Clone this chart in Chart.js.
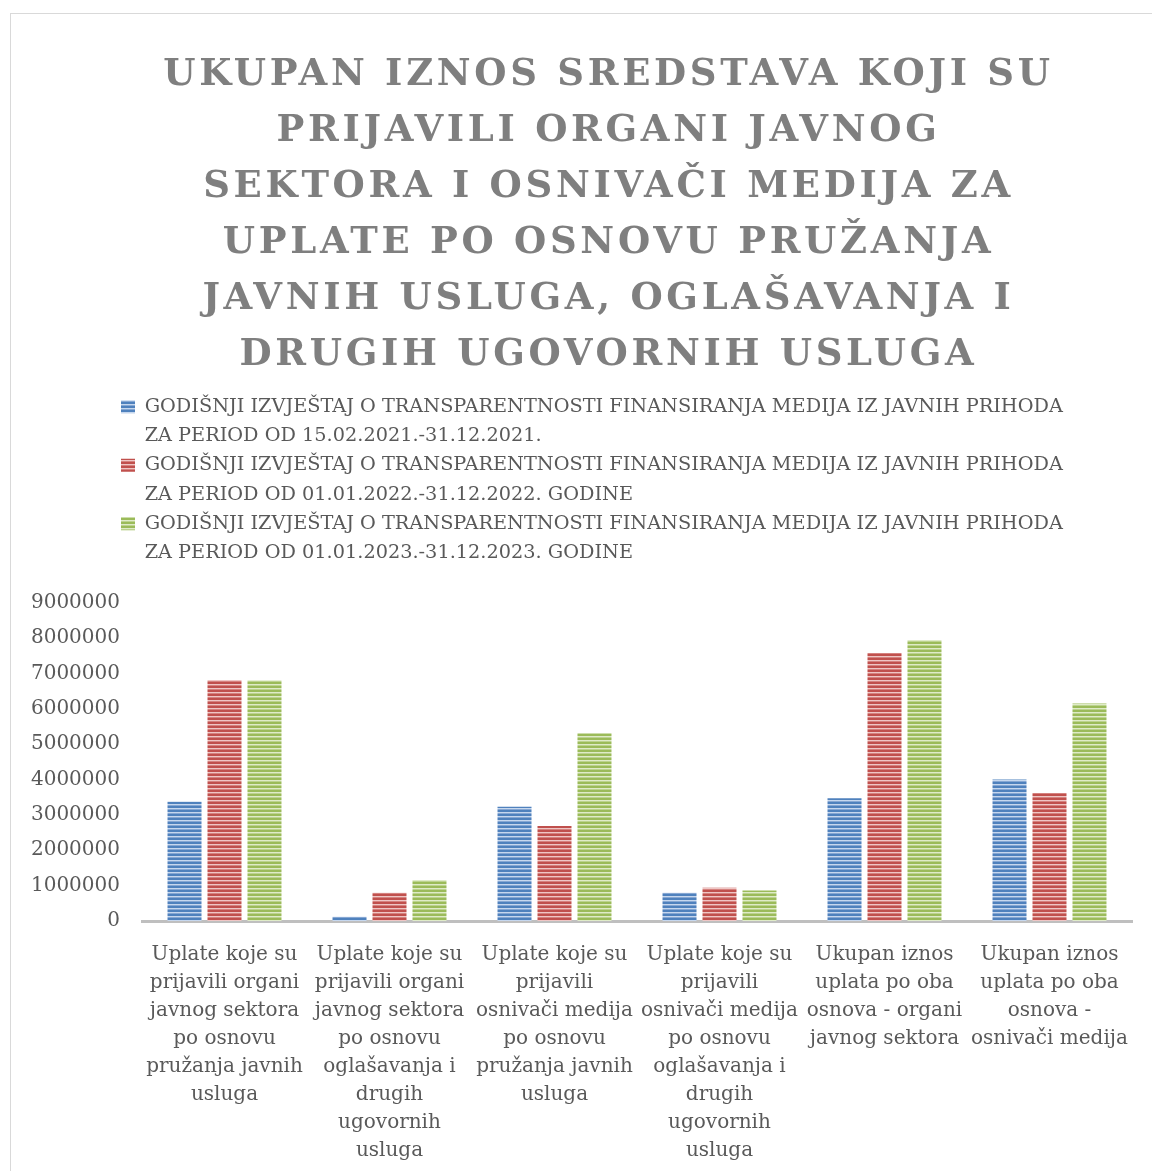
<!DOCTYPE html>
<html>
<head>
<meta charset="utf-8">
<script src="https://cdn.jsdelivr.net/npm/chart.js@4.4.1/dist/chart.umd.min.js"></script>
<style>
  html, body { margin: 0; padding: 0; background: #fff; overflow: hidden; }
  #frame { position: absolute; left: 10px; top: 13px; width: 1200px; height: 1200px; border: 1px solid #d9d9d9; }
  canvas { display: block; }
</style>
</head>
<body>
<div id="frame"><canvas id="chart" width="1141" height="1179"></canvas></div>
<script>
const titleLines = [
  "UKUPAN IZNOS SREDSTAVA KOJI SU",
  "PRIJAVILI ORGANI JAVNOG",
  "SEKTORA I OSNIVAČI MEDIJA ZA",
  "UPLATE PO OSNOVU PRUŽANJA",
  "JAVNIH USLUGA, OGLAŠAVANJA I",
  "DRUGIH UGOVORNIH USLUGA",
];

const categories = [
  ["Uplate koje su", "prijavili organi", "javnog sektora", "po osnovu", "pružanja javnih", "usluga"],
  ["Uplate koje su", "prijavili organi", "javnog sektora", "po osnovu", "oglašavanja i", "drugih", "ugovornih", "usluga"],
  ["Uplate koje su", "prijavili", "osnivači medija", "po osnovu", "pružanja javnih", "usluga"],
  ["Uplate koje su", "prijavili", "osnivači medija", "po osnovu", "oglašavanja i", "drugih", "ugovornih", "usluga"],
  ["Ukupan iznos", "uplata po oba", "osnova - organi", "javnog sektora"],
  ["Ukupan iznos", "uplata po oba", "osnova -", "osnivači medija"],
];

const seriesNames = [
  ["GODIŠNJI IZVJEŠTAJ O TRANSPARENTNOSTI FINANSIRANJA MEDIJA IZ JAVNIH PRIHODA", "ZA PERIOD OD 15.02.2021.-31.12.2021."],
  ["GODIŠNJI IZVJEŠTAJ O TRANSPARENTNOSTI FINANSIRANJA MEDIJA IZ JAVNIH PRIHODA", "ZA PERIOD OD 01.01.2022.-31.12.2022. GODINE"],
  ["GODIŠNJI IZVJEŠTAJ O TRANSPARENTNOSTI FINANSIRANJA MEDIJA IZ JAVNIH PRIHODA", "ZA PERIOD OD 01.01.2023.-31.12.2023. GODINE"],
];

const values2021 = [3370000, 120000, 3230000, 800000, 3470000, 4000000];
const values2022 = [6820000, 800000, 2690000, 940000, 7580000, 3620000];
const values2023 = [6810000, 1160000, 5310000, 860000, 7950000, 6150000];

const yMin = 0;
const yMax = 9000000;
const yStep = 1000000;

const textColor = "#595959";
const serif = "'DejaVu Serif', serif";

// horizontal stripes like the office "narrow horizontal" fill
function stripes(base, light, mid) {
  const c = document.createElement("canvas");
  c.width = 4;
  c.height = 4;
  const g = c.getContext("2d");
  const rows = [base, base, light, mid];
  rows.forEach((col, i) => {
    g.fillStyle = col;
    g.fillRect(0, i, 4, 1);
  });
  return g.createPattern(c, "repeat");
}

const fills = [
  stripes("#4f81bd", "#c6d7ee", "#86a7d3"),
  stripes("#c0504d", "#efc6c5", "#d5827f"),
  stripes("#9bbb59", "#dfebc8", "#bcd38f"),
];

// legend spacing, title letter spacing and horizontal offsets
const layoutTweaks = {
  id: "layoutTweaks",
  afterInit(chart) {
    const legend = chart.legend;
    const fit = legend.fit;
    legend.fit = function () {
      fit.call(this);
      this.height += 30;
    };
    const title = chart.titleBlock;
    const draw = title.draw;
    title.draw = function (area) {
      const ctx = this.ctx;
      ctx.save();
      ctx.letterSpacing = "3.7px";
      draw.call(this, area);
      ctx.restore();
    };
  },
  afterLayout(chart) {
    chart.legend.left = 100;
    chart.titleBlock.left += 27;
    chart.titleBlock.right += 27;
  },
};

const data = {
  labels: categories,
  datasets: [values2021, values2022, values2023].map((vals, i) => ({
    label: seriesNames[i].join(" "),
    data: vals,
    backgroundColor: fills[i],
    borderWidth: 0,
    categoryPercentage: 0.727,
    barPercentage: 0.85,
  })),
};

const config = {
  type: "bar",
  data: data,
  plugins: [layoutTweaks],
  options: {
    responsive: false,
    animation: false,
    layout: {
      padding: { left: 20, right: 20, top: 0, bottom: 8 },
    },
    plugins: {
      title: {
        display: true,
        text: titleLines,
        color: "#7f7f7f",
        font: { family: serif, size: 37, weight: "bold", lineHeight: 56 / 37 },
        padding: { top: 33, bottom: 4 },
      },
      legend: {
        display: true,
        position: "top",
        align: "start",
        labels: {
          color: textColor,
          font: { family: serif, size: 19.3 },
          boxWidth: 14,
          boxHeight: 13,
          padding: 10,
          generateLabels(chart) {
            const items = [];
            seriesNames.forEach((lines, i) => {
              lines.forEach((line, j) => {
                items.push({
                  text: line,
                  fillStyle: j === 0 ? fills[i] : "rgba(0,0,0,0)",
                  strokeStyle: "rgba(0,0,0,0)",
                  lineWidth: 0,
                  fontColor: textColor,
                  hidden: !chart.isDatasetVisible(i),
                  datasetIndex: i,
                });
              });
            });
            return items;
          },
        },
      },
      tooltip: { enabled: false },
    },

    scales: {
      x: {
        grid: { display: false, drawTicks: false },
        border: { display: true, color: "#bfbfbf", width: 3 },
        ticks: {
          color: textColor,
          font: { family: serif, size: 20, lineHeight: 1.4 },
          padding: 20,
          maxRotation: 0,
          autoSkip: false,
        },
      },
      y: {
        min: yMin,
        max: yMax,
        grid: { display: false, drawTicks: false },
        border: { display: false },
        ticks: {
          stepSize: yStep,
          color: textColor,
          font: { family: serif, size: 20, lineHeight: 1.4 },
          padding: 22,
          callback: (v) => String(v),
        },
        afterFit(scale) {
          scale.width = 111;
        },
      },
    },
  },
};

const myChart = new Chart(document.getElementById("chart"), config);
</script>
</body>
</html>
